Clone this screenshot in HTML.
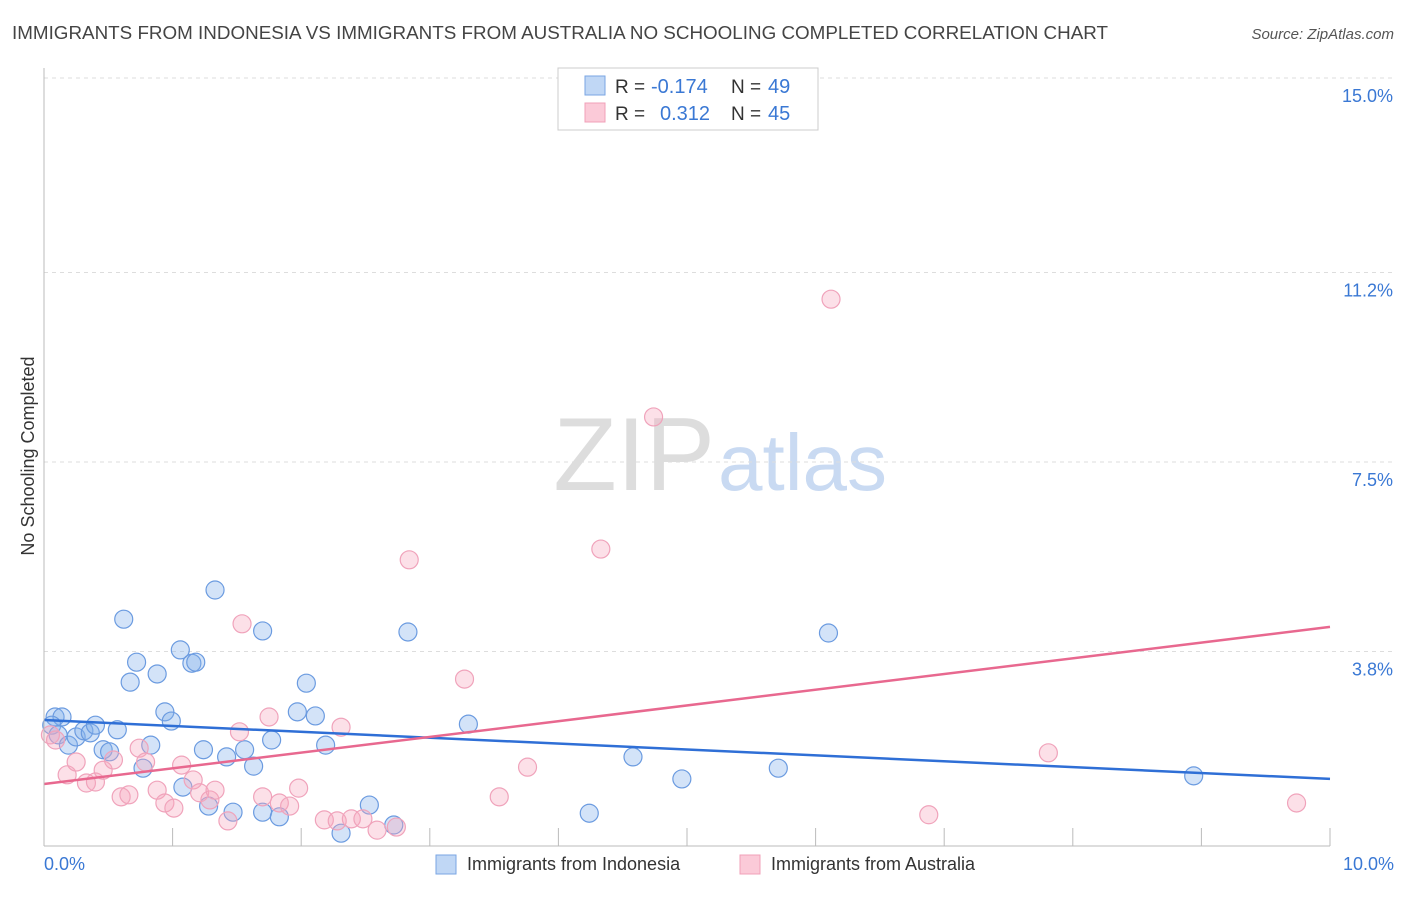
<!DOCTYPE html>
<html><head><meta charset="utf-8"><style>
body{margin:0;background:#fff;font-family:"Liberation Sans",sans-serif}
svg text{font-family:"Liberation Sans",sans-serif}
</style></head><body>
<svg id="c" width="1406" height="892" xmlns="http://www.w3.org/2000/svg">
<text x="12" y="39" font-size="18" fill="#444" textLength="1096" lengthAdjust="spacingAndGlyphs">IMMIGRANTS FROM INDONESIA VS IMMIGRANTS FROM AUSTRALIA NO SCHOOLING COMPLETED CORRELATION CHART</text>
<text x="1394" y="39" font-size="15" fill="#555" font-style="italic" text-anchor="end">Source: ZipAtlas.com</text>
<text x="715" y="490" font-size="104" fill="#ddd" font-family="Liberation Serif" text-anchor="end">ZIP</text>
<text x="718" y="490" font-size="80" fill="#c9daf2">atlas</text>
<text x="34" y="456" font-size="18" fill="#333" text-anchor="middle" transform="rotate(-90 34 456)">No Schooling Completed</text>
<g id="grid"></g><g id="pts"></g><g id="lines"></g>
<line x1="44" y1="68" x2="44" y2="846" stroke="#bbb"/>
<line x1="44" y1="846" x2="1330" y2="846" stroke="#bbb"/>
<text x="44" y="870" font-size="18" fill="#3a78d4">0.0%</text>
<text x="1394" y="870" font-size="18" fill="#3a78d4" text-anchor="end">10.0%</text>
<g>
<rect x="558" y="68" width="260" height="62" fill="#fff" stroke="#ccc"/>
<rect x="585" y="76" width="20" height="19" fill="#c0d7f5" stroke="#7aa6e3"/>
<rect x="585" y="103" width="20" height="19" fill="#fbcad8" stroke="#f0a0b8"/>
<text x="615" y="93" font-size="19" fill="#333">R =</text>
<text x="651" y="93" font-size="20" fill="#3a78d4">-0.174</text>
<text x="731" y="93" font-size="19" fill="#333">N =</text>
<text x="768" y="93" font-size="20" fill="#3a78d4">49</text>
<text x="615" y="120" font-size="19" fill="#333">R =</text>
<text x="660" y="120" font-size="20" fill="#3a78d4">0.312</text>
<text x="731" y="120" font-size="19" fill="#333">N =</text>
<text x="768" y="120" font-size="20" fill="#3a78d4">45</text>
</g>
<g><rect x="436" y="855" width="20" height="19" fill="#c0d7f5" stroke="#7aa6e3"/><text x="467" y="870" font-size="18" fill="#333">Immigrants from Indonesia</text></g>
<g><rect x="740" y="855" width="20" height="19" fill="#fbcad8" stroke="#f0a0b8"/><text x="771" y="870" font-size="18" fill="#333">Immigrants from Australia</text></g>
</svg>
<script>
const yTicks=[15,11.2,7.5,3.8];
const yTickLabels=["15.0%","11.2%","7.5%","3.8%"];
const xTicks=[1,2,3,4,5,6,7,8,9,10];
const blueX=[0.086,0.14,0.06,0.11,0.19,0.25,0.31,0.36,0.40,0.46,0.51,0.57,0.83,0.77,0.62,0.72,0.67,0.88,0.94,0.99,1.06,1.15,1.18,1.33,1.24,1.42,1.56,1.63,1.08,1.28,1.47,1.70,1.77,1.70,1.83,1.97,2.04,2.11,2.19,2.31,2.53,2.72,2.83,3.30,4.24,4.58,4.96,5.71,6.10,8.94];
const blueY=[2.52,2.52,2.36,2.17,1.97,2.13,2.25,2.21,2.36,1.88,1.84,2.27,1.97,1.52,4.43,3.59,3.20,3.36,2.62,2.44,3.83,3.57,3.59,5.00,1.88,1.74,1.88,1.56,1.15,0.78,0.66,4.20,2.07,0.66,0.57,2.62,3.18,2.54,1.97,0.25,0.80,0.41,4.18,2.38,0.64,1.74,1.31,1.52,4.16,1.37];
const pinkX=[0.05,0.09,0.18,0.25,0.33,0.40,0.46,0.54,0.60,0.66,0.74,0.79,0.88,0.94,1.01,1.07,1.16,1.21,1.29,1.33,1.43,1.52,1.54,1.70,1.75,1.83,1.91,1.98,2.18,2.28,2.31,2.39,2.48,2.59,2.74,2.84,3.27,3.54,3.76,4.33,4.74,6.12,6.88,7.81,9.74];
const pinkY=[2.17,2.07,1.39,1.64,1.23,1.25,1.48,1.68,0.96,1.00,1.91,1.64,1.09,0.84,0.74,1.58,1.29,1.04,0.90,1.09,0.49,2.23,4.34,0.96,2.52,0.84,0.78,1.13,0.51,0.49,2.32,0.53,0.53,0.31,0.37,5.59,3.26,0.96,1.54,5.80,8.38,10.68,0.61,1.82,0.84];
const blueTrend=[2.46,1.31];
const pinkTrend=[1.21,4.28];
const NS="http://www.w3.org/2000/svg";
const sx=v=>44+v*128.6, sy=v=>846-v*51.2;
function mk(t,a,p){const e=document.createElementNS(NS,t);for(const k in a)e.setAttribute(k,a[k]);p.appendChild(e);return e;}
const grid=document.getElementById('grid');
yTicks.forEach((v,i)=>{
 const l=mk('line',{x1:44,x2:1394,y1:sy(v),y2:sy(v),stroke:'#ddd','stroke-dasharray':'4,4'},grid);
 
 
 const t=mk('text',{x:1393,y:sy(v)+24,'font-size':18,fill:'#3a78d4','text-anchor':'end'},grid);
 t.textContent=yTickLabels[i];
 
 
});
xTicks.forEach(v=>{
 const l=mk('line',{x1:sx(v),x2:sx(v),y1:828,y2:846,stroke:'#bbb'},grid);
 
 
});
const pts=document.getElementById('pts');
blueX.forEach((x,i)=>{
 const c=mk('circle',{cx:sx(x),cy:sy(blueY[i]),r:9,fill:'rgba(130,175,235,0.35)',stroke:'#6b9be0','stroke-width':1.2},pts);
 
 
});
pinkX.forEach((x,i)=>{
 const c=mk('circle',{cx:sx(x),cy:sy(pinkY[i]),r:9,fill:'rgba(245,165,190,0.35)',stroke:'#f0a3bb','stroke-width':1.2},pts);
 
 
});
const lines=document.getElementById('lines');
const bl=mk('line',{x1:sx(0),y1:sy(blueTrend[0]),x2:sx(10),y2:sy(blueTrend[1]),stroke:'#2f6fd6','stroke-width':2.5},lines);


const pl=mk('line',{x1:sx(0),y1:sy(pinkTrend[0]),x2:sx(10),y2:sy(pinkTrend[1]),stroke:'#e8688f','stroke-width':2.5},lines);


</script>
</body></html>
